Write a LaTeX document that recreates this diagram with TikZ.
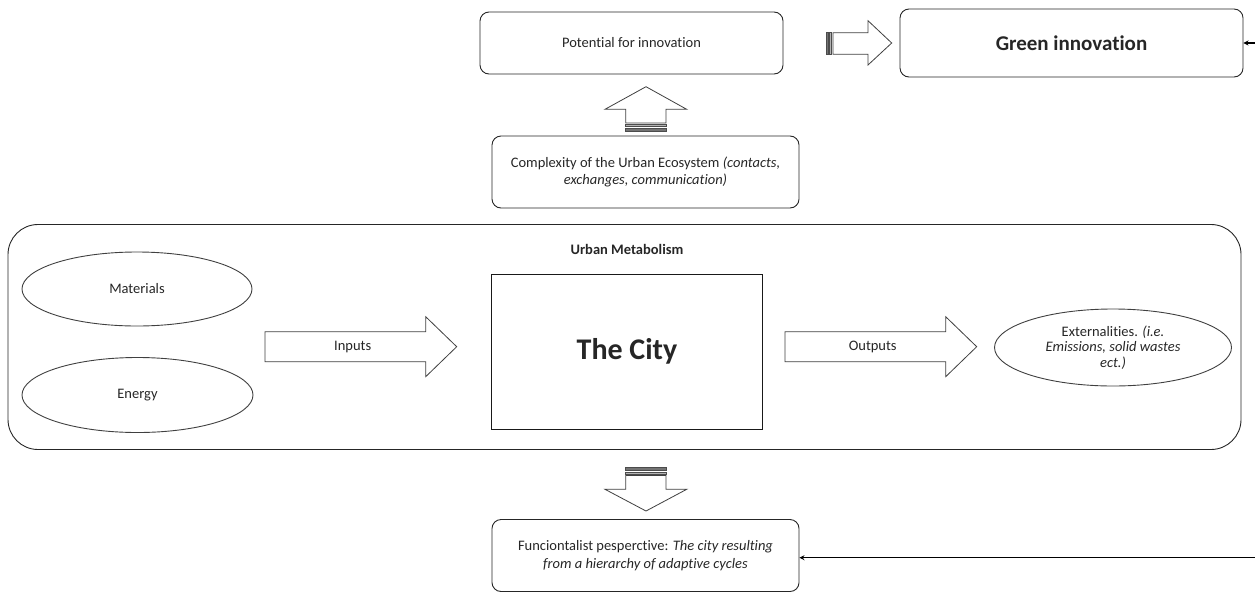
\documentclass[tikz,border=0pt]{standalone}
\usepackage{fontspec}
\setmainfont{Carlito}[Ligatures=NoCommon]
\usetikzlibrary{shapes.geometric,arrows.meta}
\begin{document}
\begin{tikzpicture}[x=1pt,y=-1pt,
  every node/.style={font=\fontsize{14.5}{17.7}\selectfont,align=center,text=black!85,inner sep=0pt},
  box/.style={draw=black!85,line width=0.9pt,rounded corners=9pt},
  oval/.style={draw=black!75,line width=0.9pt,ellipse},
  blockarrow/.style={draw=black!75,line width=0.8pt,fill=white,line join=miter},
  stripe/.style={draw=black!70,line width=0.6pt},
  conn/.style={draw=black,line width=1.4pt,-{Stealth[length=5pt,width=5pt]}}]
\useasboundingbox (0,0) rectangle (1255,592);

% boxes
\node[box, minimum width=303pt, minimum height=62pt] (pot) at (631.5,43) {Potential for innovation};
\node[box, minimum width=343pt, minimum height=68pt, font=\fontsize{21}{25}\selectfont\bfseries] (green) at (1071.5,43) {Green innovation};
\node[box, minimum width=307pt, minimum height=72pt] (complex) at (645.5,172) {Complexity of the Urban Ecosystem \textit{(contacts,}\\ \textit{exchanges, communication)}};
\node[box, rounded corners=30pt, minimum width=1233pt, minimum height=225pt] (urban) at (624.5,337) {};
\node[font=\fontsize{14.5}{17.7}\selectfont\bfseries] (title) at (627,249) {Urban Metabolism};
\node[draw=black!90, line width=0.9pt, minimum width=271pt, minimum height=154.5pt, font=\fontsize{30}{36}\selectfont\bfseries] (city) at (627,351.7) {The City};
\node[oval, minimum width=230pt, minimum height=74pt] (mat) at (137,289) {Materials};
\node[oval, minimum width=231pt, minimum height=75pt] (energy) at (137.5,395) {Energy};
\node[oval, minimum width=237pt, minimum height=77pt, font=\fontsize{14.5}{15.8}\selectfont] (ext) at (1113,347.5) {Externalities. \textit{(i.e.}\\ \textit{Emissions, solid wastes}\\ \textit{ect.)}};
\node[box, minimum width=307pt, minimum height=72pt] (func) at (645.5,555.5) {Funciontalist pesperctive: \textit{The city resulting}\\ \textit{from a hierarchy of adaptive cycles}};

% inputs / outputs block arrows
\draw[blockarrow] (265,331.7) -- (425.7,331.7) -- (425.7,316.7) -- (456.7,346.7) -- (425.7,376.7) -- (425.7,361.7) -- (265,361.7) -- cycle;
\node (inlab) at (352.7,346.7) {Inputs};
\draw[blockarrow] (785,331.7) -- (945.7,331.7) -- (945.7,316.7) -- (976.7,346.7) -- (945.7,376.7) -- (945.7,361.7) -- (785,361.7) -- cycle;
\node (outlab) at (872.7,346.7) {Outputs};

% striped arrow to green innovation
\draw[blockarrow] (833,32.7) -- (868,32.7) -- (868,20.7) -- (891.7,43) -- (868,65) -- (868,54.3) -- (833,54.3) -- cycle;
\draw[stripe, fill=black!55] (826,32.7) rectangle (828,54.3);
\draw[stripe, fill=black!30] (829.5,32.7) rectangle (831.3,54.3);

% striped up arrow
\draw[blockarrow] (625.7,123) -- (625.7,109.3) -- (605,109.3) -- (646,86.7) -- (686.7,109.3) -- (666,109.3) -- (666,123) -- cycle;
\draw[stripe, fill=black!30] (625.7,124.5) rectangle (666,126.3);
\draw[stripe, fill=black!55] (625.7,128.3) rectangle (666,131.2);

% striped down arrow
\draw[stripe, fill=black!55] (625.7,467.5) rectangle (666,470.4);
\draw[stripe, fill=black!30] (625.7,472.2) rectangle (666,474);
\draw[blockarrow] (625.7,475.5) -- (666,475.5) -- (666,489.3) -- (686.7,489.3) -- (646,511) -- (605,489.3) -- (625.7,489.3) -- cycle;

% connectors from the right edge
\coordinate (r1) at (1255,43);
\coordinate (r2) at (1255,557.7);
\draw[conn] (r1) -- (green);
\draw[conn] (r2) -- (r2 -| func.east);
\end{tikzpicture}
\end{document}
